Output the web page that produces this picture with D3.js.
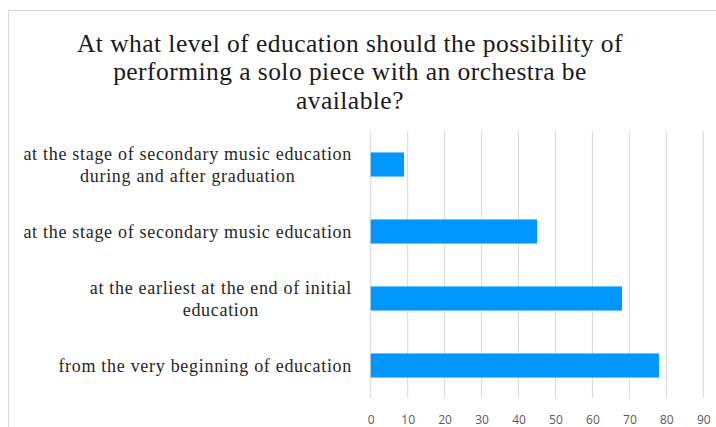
<!DOCTYPE html>
<html>
<head>
<meta charset="utf-8">
<script src="https://cdn.jsdelivr.net/npm/d3@7"></script>
<style>
  html, body { margin: 0; padding: 0; background: #fff; }
  svg { display: block; }
  .serif { font-family: "Liberation Serif", "Times New Roman", Tinos, "DejaVu Serif", serif; }
  .sans { font-family: "Open Sans", "Noto Sans", sans-serif; }
</style>
</head>
<body>
<svg id="chart" width="716" height="427"></svg>
<script>
// Survey answers, listed top to bottom as shown
const categories = [
  ["at the stage of secondary music education", "during and after graduation"],
  ["at the stage of secondary music education"],
  ["at the earliest at the end of initial", "education"],
  ["from the very beginning of education"]
];
const values = [9, 45, 68, 78];
const xTicks = [0, 10, 20, 30, 40, 50, 60, 70, 80, 90];
const titleLines = [
  "At what level of education should the possibility of",
  "performing a solo piece with an orchestra be",
  "available?"
];

const svg = d3.select("#chart");
const W = 716, H = 427;

// outer chart frame
svg.append("rect")
  .attr("x", 8.5).attr("y", 10.5)
  .attr("width", W + 20).attr("height", H + 20)
  .attr("fill", "#fff").attr("stroke", "#d9d9d9").attr("stroke-width", 1);

// title
const title = svg.append("text")
  .attr("class", "serif")
  .attr("text-anchor", "middle")
  .attr("font-size", 25.5)
  .attr("letter-spacing", 0.45)
  .attr("fill", "#1a1a1a");
titleLines.forEach((t, i) => {
  title.append("tspan").attr("x", 350).attr("y", 52 + i * 28.3).text(t);
});

const plot = { left: 370.7, right: 703.3, top: 131, bottom: 399 };

const x = d3.scaleLinear().domain([0, 90]).range([plot.left, plot.right]);
const y = d3.scaleBand()
  .domain(d3.range(categories.length))
  .range([plot.top, plot.bottom])
  .paddingInner(0.64).paddingOuter(0.32);

// vertical gridlines
svg.append("g")
  .selectAll("line")
  .data(xTicks)
  .join("line")
  .attr("x1", d => x(d)).attr("x2", d => x(d))
  .attr("y1", plot.top).attr("y2", plot.bottom - 1)
  .attr("stroke", "#d9d9d9").attr("stroke-width", 1);

// bars
svg.append("g")
  .selectAll("rect")
  .data(values)
  .join("rect")
  .attr("x", x(0))
  .attr("y", (d, i) => y(i))
  .attr("width", d => x(d) - x(0))
  .attr("height", y.bandwidth())
  .attr("fill", "#0096ff");

// x axis tick labels
const xAxis = d3.axisBottom(x).tickValues(xTicks).tickSize(0).tickPadding(0);
const gx = svg.append("g")
  .attr("transform", `translate(0, ${plot.bottom + 16})`)
  .call(xAxis);
gx.select(".domain").remove();
gx.attr("font-family", null).attr("font-size", null);
gx.selectAll("text")
  .attr("class", "sans")
  .attr("font-size", 12)
  .attr("fill", "#595959");

// category labels: each block centred on its widest line, right edge aligned
const labelRight = 352;
const labelFont = 18;
const lineGap = 21.7;
const lg = svg.append("g")
  .attr("class", "serif")
  .attr("font-size", labelFont)
  .attr("letter-spacing", 0.7)
  .attr("fill", "#262626");
categories.forEach((lines, i) => {
  const cy = y(i) + y.bandwidth() / 2;
  const t = lg.append("text").attr("text-anchor", "middle");
  const spans = lines.map((s, j) =>
    t.append("tspan")
      .attr("y", cy + (j - (lines.length - 1) / 2) * lineGap + 6.2)
      .text(s));
  const maxW = d3.max(spans, s => s.node().getComputedTextLength());
  spans.forEach(s => s.attr("x", labelRight - maxW / 2));
});
</script>
</body>
</html>
